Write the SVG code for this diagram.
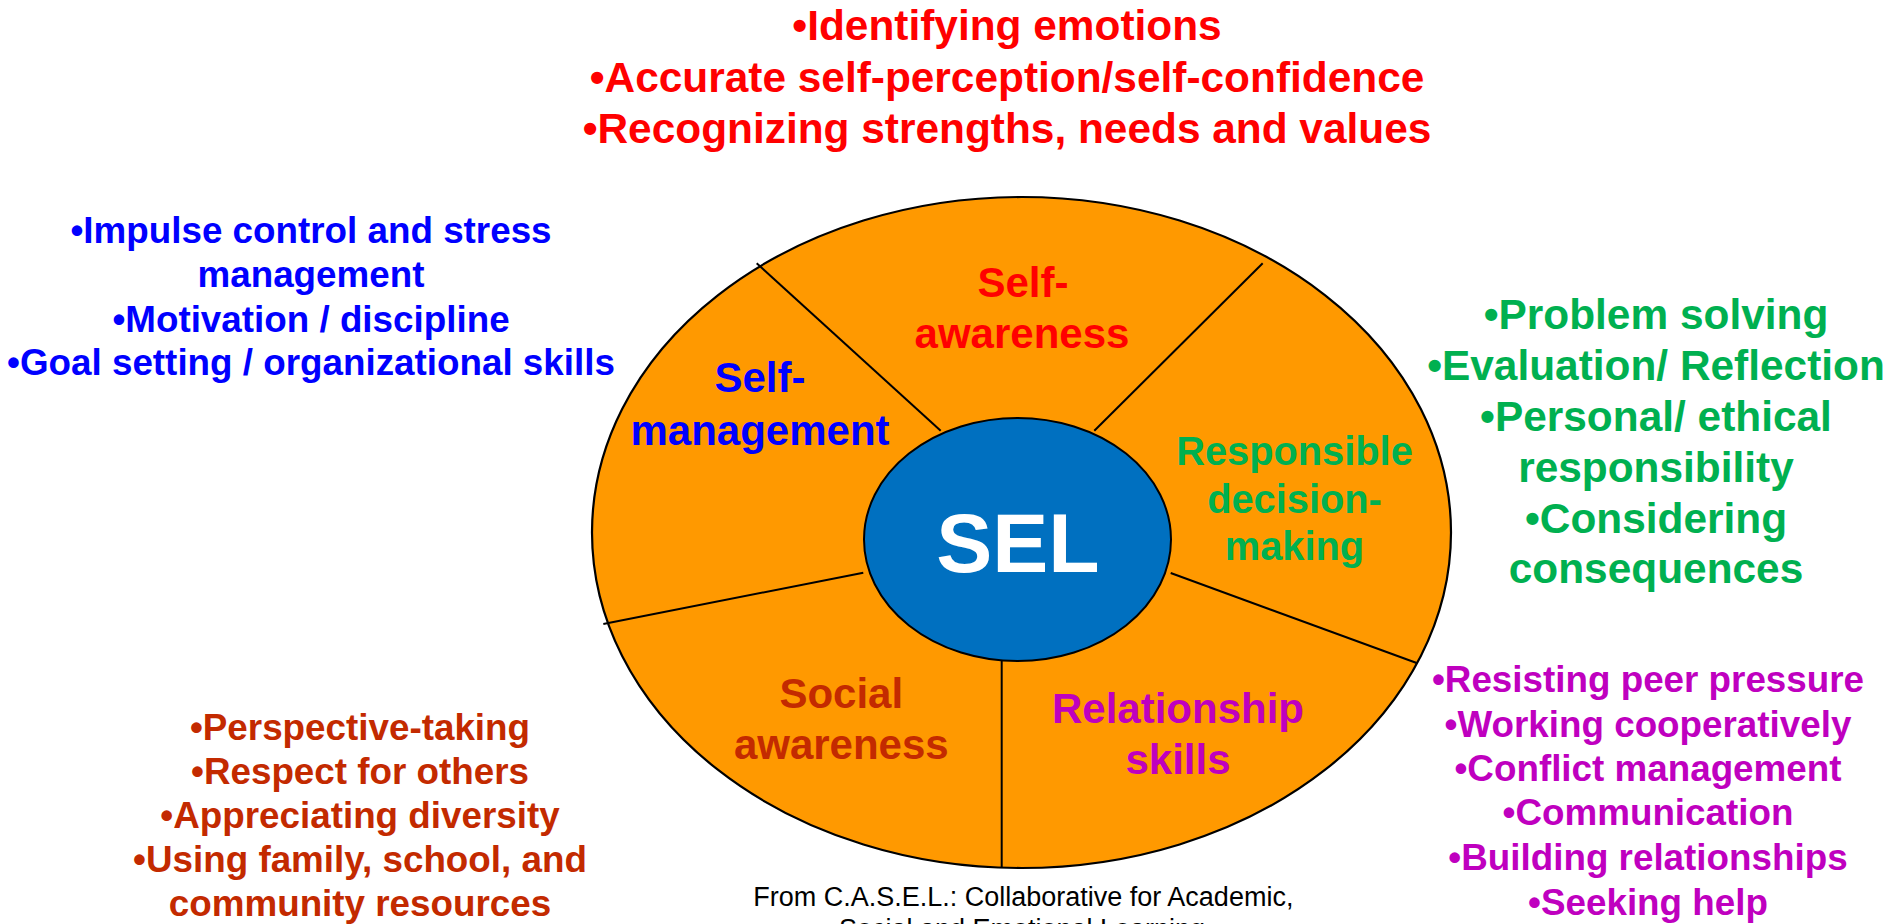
<svg xmlns="http://www.w3.org/2000/svg" width="1897" height="924" viewBox="0 0 1897 924">
<style>
text{font-family:"Liberation Sans",Arial,sans-serif;font-weight:bold;text-anchor:middle}
.red{fill:#FF0000}.blue{fill:#0000FF}.green{fill:#00B050}.purple{fill:#BF00BF}.brown{fill:#C32A00}
.l42{font-size:42.4px}.l37{font-size:36.8px}.lab{font-size:42px}.lab40{font-size:39.8px}
.div{stroke:#000;stroke-width:2;fill:none}
.foot{font-weight:normal;font-size:27px;fill:#000}
</style>
<rect width="1897" height="924" fill="#FFFFFF"/>
<g id="outer-ring">
<ellipse cx="1021.5" cy="532.5" rx="429.5" ry="335.5" fill="#FF9900" stroke="#000" stroke-width="2.2"/>
</g>
<g id="connectors">
<line class="div" x1="756.7" y1="263.3" x2="940.7" y2="430.7"/>
<line class="div" x1="1262.7" y1="263.3" x2="1094.3" y2="430.7"/>
<line class="div" x1="603.3" y1="624" x2="863.3" y2="572.7"/>
<line class="div" x1="1170.7" y1="573" x2="1416.7" y2="663"/>
<line class="div" x1="1001.7" y1="661" x2="1001.7" y2="867.5"/>
</g>
<g id="sel-center">
<ellipse cx="1017.5" cy="539.5" rx="153.5" ry="121.5" fill="#0070C0" stroke="#000" stroke-width="2"/>
<text x="1018" y="571.5" style="font-size:84px;fill:#FFFFFF">SEL</text>
</g>
<g id="label-self-awareness" class="lab red">
<text x="1023" y="296.7">Self-</text>
<text x="1022" y="348.3">awareness</text>
</g>
<g id="label-self-management" class="lab blue">
<text x="760" y="392.3">Self-</text>
<text x="760" y="445">management</text>
</g>
<g id="label-responsible" class="lab40 green">
<text x="1294.5" y="465">Responsible</text>
<text x="1294.5" y="513.3">decision-</text>
<text x="1294.5" y="560">making</text>
</g>
<g id="label-social-awareness" class="lab brown">
<text x="841.3" y="707.7">Social</text>
<text x="841.3" y="759.3">awareness</text>
</g>
<g id="label-relationship" class="lab purple">
<text x="1178" y="723.3">Relationship</text>
<text x="1178" y="774.3">skills</text>
</g>
<g id="list-self-awareness" class="l42 red">
<text x="1007" y="40">•Identifying emotions</text>
<text x="1007" y="92">•Accurate self-perception/self-confidence</text>
<text x="1007" y="143">•Recognizing strengths, needs and values</text>
</g>
<g id="list-self-management" class="l37 blue">
<text x="311" y="243.3">•Impulse control and stress</text>
<text x="311" y="287.3">management</text>
<text x="311" y="331.5">•Motivation / discipline</text>
<text x="311" y="375">•Goal setting / organizational skills</text>
</g>
<g id="list-responsible" class="l42 green">
<text x="1656" y="329">•Problem solving</text>
<text x="1656" y="380">•Evaluation/ Reflection</text>
<text x="1656" y="431">•Personal/ ethical</text>
<text x="1656" y="482">responsibility</text>
<text x="1656" y="532.5">•Considering</text>
<text x="1656" y="583">consequences</text>
</g>
<g id="list-relationship" class="l37 purple">
<text x="1648" y="692">•Resisting peer pressure</text>
<text x="1648" y="737">•Working cooperatively</text>
<text x="1648" y="780.5">•Conflict management</text>
<text x="1648" y="825">•Communication</text>
<text x="1648" y="870">•Building relationships</text>
<text x="1648" y="915">•Seeking help</text>
</g>
<g id="list-social-awareness" class="l37 brown">
<text x="360" y="740">•Perspective-taking</text>
<text x="360" y="784">•Respect for others</text>
<text x="360" y="828">•Appreciating diversity</text>
<text x="360" y="872">•Using family, school, and</text>
<text x="360" y="916">community resources</text>
</g>
<g id="footer">
<text class="foot" x="1023.3" y="905.7">From C.A.S.E.L.: Collaborative for Academic,</text>
<text class="foot" x="1022" y="938">Social and Emotional Learning</text>
</g>
</svg>
